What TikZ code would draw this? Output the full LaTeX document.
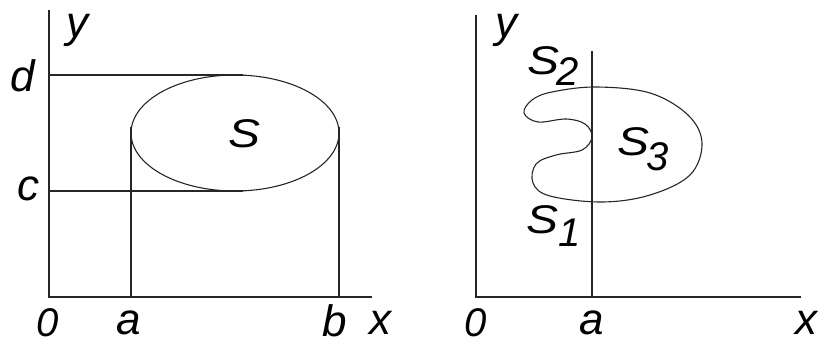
\documentclass[tikz,border=0pt]{standalone}
\usepackage{fontspec}
\setmainfont{Liberation Sans}
\begin{document}
\begin{tikzpicture}[x=1pt,y=-1pt,
  ln/.style={line width=1.5pt,black!85},
  crv/.style={line width=1.1pt,black!85},
  lbl/.style={inner sep=0pt,font=\fontsize{44}{44}\selectfont\itshape},
  zlbl/.style={inner sep=0pt,font=\fontsize{40}{40}\selectfont\itshape},
  slbl/.style={inner sep=0pt,font=\fontsize{40}{40}\selectfont\itshape,xscale=1.2},
  sub/.style={inner sep=0pt,font=\fontsize{40}{40}\selectfont\itshape}]
\useasboundingbox (0,0) rectangle (818,345);
% ---------- left panel ----------
\coordinate (O1) at (49,297);
\coordinate (Ytop1) at (49,10);
\coordinate (Xend1) at (372,297);
\coordinate (Cen) at (235,133);
\coordinate (dL) at (49,75);
\coordinate (dR) at (243,75);
\coordinate (cL) at (49,191);
\coordinate (cR) at (243,191);
\coordinate (aT) at (131,127);
\coordinate (aB) at (131,297);
\coordinate (bT) at (339,127);
\coordinate (bB) at (339,297);
\draw[ln] (Ytop1) -- (O1) -- (Xend1);
\draw[ln] (dL) -- (dR);
\draw[ln] (cL) -- (cR);
\draw[ln] (aT) -- (aB);
\draw[ln] (bT) -- (bB);
\draw[crv] (Cen) ellipse [x radius=104, y radius=58];
\node[lbl] (ly1) at (77,30) {y};
\node[lbl] (ld) at (23,76) {d};
\node[lbl] (lc) at (28,189) {c};
\node[zlbl] (lO1) at (48,323) {0};
\node[lbl] (la1) at (129,323) {a};
\node[lbl] (lb) at (335,321) {b};
\node[lbl] (lx1) at (380,323) {x};
\node[slbl] (lS) at (245,134) {S};
% ---------- right panel ----------
\coordinate (O2) at (476,297);
\coordinate (Ytop2) at (476,15);
\coordinate (Xend2) at (801,297);
\coordinate (a2T) at (592,51);
\coordinate (a2B) at (592,297);
\draw[ln] (Ytop2) -- (O2) -- (Xend2);
\draw[ln] (a2T) -- (a2B);
\draw[crv] plot[smooth cycle, tension=0.6] coordinates {
  (596,87) (650,93) (688,115) (702,143) (690,175) (650,195) (602,202)
  (550,196) (533,183) (536,164) (556,155) (582,150) (592,137)
  (585,124) (566,119) (538,122) (524,113) (532,100) (552,92)};
\node[lbl] (ly2) at (506,30) {y};
\node[slbl] (lS2) at (543,61) {S};
\node[sub] (l2) at (568,72) {2};
\node[slbl] (lS1) at (542,220) {S};
\node[sub] (l1) at (570,233) {1};
\node[slbl] (lS3) at (633,142) {S};
\node[sub] (l3) at (658,157) {3};
\node[zlbl] (lO2) at (476,323) {0};
\node[lbl] (la2) at (592,323) {a};
\node[lbl] (lx2) at (806,323) {x};
\end{tikzpicture}
\end{document}
